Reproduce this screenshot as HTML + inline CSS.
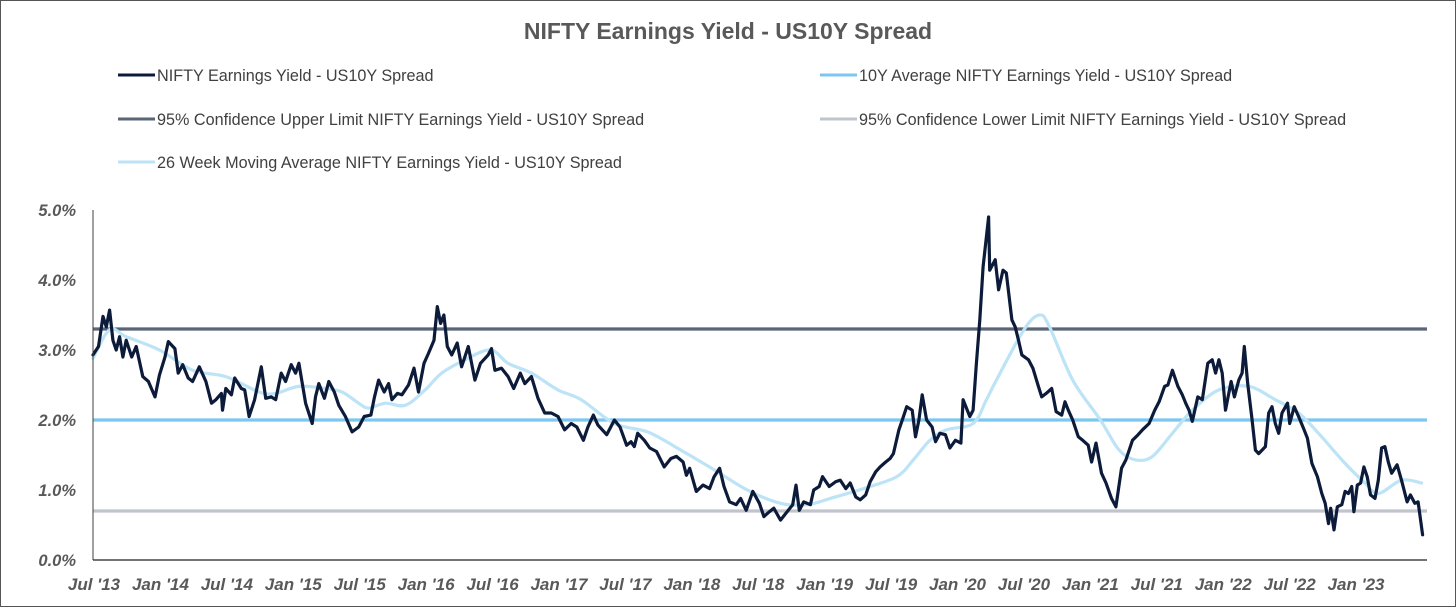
<!DOCTYPE html>
<html><head><meta charset="utf-8">
<style>
html,body{margin:0;padding:0;background:#fff;}
svg{display:block;font-family:"Liberation Sans",sans-serif;}
</style></head>
<body>
<svg id="chart" width="1456" height="607" viewBox="0 0 1456 607" xmlns="http://www.w3.org/2000/svg">
<rect x="0.5" y="0.5" width="1455" height="606" fill="#fff" stroke="#555" stroke-width="1"/>
<text x="728" y="39" text-anchor="middle" font-size="23" font-weight="bold" fill="#595959">NIFTY Earnings Yield - US10Y Spread</text>
<g font-size="16.2" fill="#404040">
 <g><line x1="118" y1="75" x2="155" y2="75" stroke="#0d1b3a" stroke-width="3"/><text x="157" y="81">NIFTY Earnings Yield - US10Y Spread</text></g>
 <g><line x1="820" y1="75" x2="857" y2="75" stroke="#7cc7f0" stroke-width="3"/><text x="859" y="81">10Y Average NIFTY Earnings Yield - US10Y Spread</text></g>
 <g><line x1="118" y1="119" x2="155" y2="119" stroke="#5a6678" stroke-width="3"/><text x="157" y="125">95% Confidence Upper Limit NIFTY Earnings Yield - US10Y Spread</text></g>
 <g><line x1="820" y1="119" x2="857" y2="119" stroke="#c0c4cc" stroke-width="3"/><text x="859" y="125">95% Confidence Lower Limit NIFTY Earnings Yield - US10Y Spread</text></g>
 <g><line x1="118" y1="162" x2="155" y2="162" stroke="#bde3f7" stroke-width="3"/><text x="157" y="168">26 Week Moving Average NIFTY Earnings Yield - US10Y Spread</text></g>
</g>
<g id="yticks"></g>
<g id="xticks"></g>
<g id="marks"></g>
<line x1="93" y1="210" x2="93" y2="560" stroke="#404040" stroke-width="1"/>
<line x1="93" y1="560" x2="1427" y2="560" stroke="#222" stroke-width="1.2"/>
</svg>
<script>
const yTickValues=[0,1,2,3,4,5];
const yTickLabels=["0.0%","1.0%","2.0%","3.0%","4.0%","5.0%"];
const xTickMonths=[0,6,12,18,24,30,36,42,48,54,60,66,72,78,84,90,96,102,108,114];
const xTickLabels=["Jul '13","Jan '14","Jul '14","Jan '15","Jul '15","Jan '16","Jul '16","Jan '17","Jul '17","Jan '18","Jul '18","Jan '19","Jul '19","Jan '20","Jul '20","Jan '21","Jul '21","Jan '22","Jul '22","Jan '23"];
const avgValue=2.0;
const upperValue=3.3;
const lowerValue=0.7;
const spreadMonths=[0,0.5,0.9,1.2,1.5,1.8,2.1,2.4,2.7,3.0,3.5,3.9,4.5,5.0,5.6,6.0,6.5,6.8,7.4,7.7,8.1,8.6,9.0,9.6,10.2,10.7,11.1,11.6,11.7,12.0,12.5,12.8,13.4,13.7,14.1,14.6,15.2,15.6,16.1,16.5,17.0,17.4,17.9,18.3,18.6,19.2,19.8,20.1,20.4,20.9,21.3,21.8,22.2,22.8,23.4,24.0,24.5,25.1,25.4,25.8,26.3,26.7,27.0,27.5,27.9,28.5,29.0,29.4,29.9,30.3,30.8,31.1,31.4,31.7,32.0,32.4,32.9,33.3,33.9,34.5,35.0,35.7,36.0,36.3,36.9,37.5,38.0,38.6,39.0,39.6,40.2,40.8,41.4,42.0,
42.6,43.2,43.7,44.3,44.7,45.2,45.6,46.4,47.1,47.6,48.2,48.6,48.9,49.2,49.8,50.3,50.9,51.6,52.2,52.7,53.3,53.6,53.9,54.5,55.1,55.7,56.1,56.6,57.0,57.5,58.1,58.5,59.0,59.6,60.2,60.6,61.1,61.5,62.1,62.7,63.2,63.5,63.8,64.2,64.8,65.1,65.6,65.9,66.5,67.1,67.5,68.0,68.4,68.9,69.3,69.8,70.2,70.7,71.1,71.6,72.0,72.3,72.8,73.1,73.5,74.0,74.3,74.6,74.9,75.3,75.8,76.1,76.5,77.0,77.4,77.9,78.4,78.6,79.2,79.5,79.8,80.1,80.4,80.9,81.0,
81.5,81.8,82.2,82.5,83.0,83.3,83.6,83.9,84.5,84.9,85.4,85.7,86.1,86.6,87.0,87.5,87.8,88.1,88.5,89.0,89.4,89.9,90.2,90.6,91.1,91.5,92.0,92.4,92.9,93.3,93.9,94.4,94.8,95.4,95.9,96.3,96.8,97.1,97.5,98.0,98.4,98.7,99.0,99.3,99.8,100.2,100.7,101.1,101.4,101.7,102.0,102.3,102.8,103.1,103.5,103.8,104.0,104.3,104.7,105.0,105.3,105.9,106.2,106.5,106.8,107.1,107.4,107.9,108.1,108.5,108.9,109.4,109.7,110.1,110.6,111.0,111.3,111.6,111.8,112.1,112.4,112.8,113.1,113.4,113.7,113.9,114.2,114.5,114.8,115.1,115.4,115.8,116.1,116.4,116.7,117.0,117.3,117.8,118.2,118.7,119.0,119.4,119.7,120.1];
const spreadValues=[2.93,3.05,3.48,3.33,3.57,3.14,3.0,3.19,2.9,3.14,2.9,3.05,2.62,2.55,2.33,2.64,2.9,3.12,3.02,2.67,2.79,2.6,2.55,2.76,2.55,2.24,2.29,2.38,2.14,2.45,2.36,2.6,2.45,2.43,2.05,2.29,2.76,2.31,2.33,2.29,2.67,2.55,2.79,2.67,2.81,2.24,1.95,2.33,2.52,2.31,2.55,2.40,2.21,2.05,1.83,1.9,2.05,2.07,2.31,2.57,2.40,2.52,2.29,2.38,2.36,2.5,2.74,2.40,2.81,2.95,3.14,3.62,3.38,3.5,3.05,2.93,3.1,2.76,3.05,2.57,2.81,2.93,3.02,2.71,2.74,2.62,2.45,2.67,2.52,2.62,2.31,2.1,2.1,2.05,
1.86,1.95,1.9,1.71,1.9,2.07,1.93,1.79,2.0,1.9,1.64,1.69,1.62,1.81,1.71,1.6,1.55,1.33,1.45,1.48,1.4,1.21,1.31,0.98,1.07,1.02,1.19,1.31,1.05,0.83,0.79,0.88,0.71,0.98,0.81,0.62,0.69,0.74,0.57,0.69,0.79,1.07,0.71,0.83,0.79,1.0,1.05,1.19,1.05,1.12,1.14,1.02,1.1,0.9,0.86,0.93,1.12,1.26,1.33,1.4,1.45,1.52,1.86,2.0,2.19,2.14,1.76,2.0,2.36,2.0,1.9,1.69,1.81,1.79,1.6,1.71,1.67,2.29,2.05,2.14,2.81,3.43,4.19,4.9,4.14,
4.29,3.86,4.14,4.1,3.43,3.33,3.14,2.93,2.86,2.74,2.48,2.33,2.38,2.45,2.12,2.07,2.26,2.14,2.0,1.76,1.71,1.64,1.40,1.67,1.24,1.10,0.88,0.76,1.31,1.43,1.71,1.79,1.86,1.95,2.14,2.26,2.48,2.5,2.71,2.48,2.36,2.24,2.14,1.98,2.33,2.29,2.81,2.86,2.67,2.86,2.67,2.14,2.55,2.33,2.57,2.67,3.05,2.52,2.0,1.57,1.52,1.62,2.1,2.19,1.95,1.81,2.1,2.24,1.95,2.19,2.05,1.86,1.74,1.38,1.19,0.95,0.81,0.52,0.74,0.43,0.76,0.79,0.98,0.95,1.05,0.69,1.07,1.1,1.33,1.19,0.93,0.88,1.14,1.6,1.62,1.4,1.24,1.36,1.14,0.83,0.93,0.81,0.83,0.36];
const maMonths=[0,1.5,3.0,6.0,9.0,12.0,15.0,16.5,18.6,21.0,22.5,24.0,24.9,26.4,28.2,30.0,31.5,33.6,35.9,37.5,39.6,42.0,44.1,47.1,50.1,53.1,56.1,59.1,62.1,64.5,66.6,69.6,72.6,74.1,75.6,77.1,79.5,80.7,81.6,84.1,85.5,86.4,88.5,91.0,92.7,94.2,95.7,97.5,99.3,101.7,104.4,106.8,108.9,110.7,113.1,114.9,116.1,118.2,120.0];
const maValues=[2.88,3.29,3.19,3.0,2.71,2.62,2.40,2.38,2.48,2.45,2.40,2.24,2.17,2.24,2.21,2.43,2.67,2.86,3.0,2.81,2.67,2.43,2.29,1.95,1.83,1.57,1.29,1.0,0.81,0.79,0.88,1.02,1.19,1.43,1.71,1.86,1.95,2.29,2.57,3.29,3.5,3.33,2.57,2.0,1.57,1.43,1.48,1.81,2.14,2.43,2.48,2.29,2.1,1.81,1.38,1.1,0.95,1.14,1.10];

const NS="http://www.w3.org/2000/svg";
const X0=93,X1=1427,Y0=560,Y5=210;
function xScale(m){return X0+m*(X1-X0)/120.5;}
function yScale(v){return Y0-v*(Y0-Y5)/5;}
function mk(tag,attrs,parent){const e=document.createElementNS(NS,tag);for(const k in attrs)e.setAttribute(k,attrs[k]);parent.appendChild(e);return e;}

const yt=document.getElementById('yticks');
yTickValues.forEach((v,i)=>{
 const t=mk('text',{x:76,y:yScale(v)+6,'text-anchor':'end','font-size':16.5,'font-weight':'bold','font-style':'italic',fill:'#595959'},yt);
 
 
 t.textContent=yTickLabels[i];
});
const xt=document.getElementById('xticks');
xTickMonths.forEach((m,i)=>{
 const t=mk('text',{x:xScale(m)+1,y:590,'text-anchor':'middle','font-size':17,'font-weight':'bold','font-style':'italic',fill:'#595959'},xt);
 
 
 t.textContent=xTickLabels[i];
});
const g=document.getElementById('marks');
function hline(v,color,name){
 const l=mk('line',{x1:X0,x2:X1,y1:yScale(v),y2:yScale(v),stroke:color,'stroke-width':3.2},g);
 
 
}
hline(upperValue,'#5a6678','upper-limit-line');
hline(lowerValue,'#c0c4cc','lower-limit-line');
hline(avgValue,'#7cc7f0','average-line');
function path(ms,vs,color,w,smooth){
 const p=ms.map((m,i)=>[xScale(m),yScale(vs[i])]);
 let d='M'+p[0][0].toFixed(1)+','+p[0][1].toFixed(1);
 for(let i=1;i<p.length;i++){
  if(smooth){
   const a=p[Math.max(0,i-2)],b=p[i-1],c=p[i],e=p[Math.min(p.length-1,i+1)];
   const c1=[b[0]+(c[0]-a[0])/6,b[1]+(c[1]-a[1])/6],c2=[c[0]-(e[0]-b[0])/6,c[1]-(e[1]-b[1])/6];
   d+='C'+c1[0].toFixed(1)+','+c1[1].toFixed(1)+' '+c2[0].toFixed(1)+','+c2[1].toFixed(1)+' '+c[0].toFixed(1)+','+c[1].toFixed(1);
  } else d+='L'+p[i][0].toFixed(1)+','+p[i][1].toFixed(1);
 }
 return mk('path',{d:d,fill:'none',stroke:color,'stroke-width':w,'stroke-linejoin':'round','stroke-linecap':'round'},g);
}
const ma=path(maMonths,maValues,'#bde3f7',3.2,true);


const sp=path(spreadMonths,spreadValues,'#0d1b3a',3.2,false);


</script>
</body></html>
